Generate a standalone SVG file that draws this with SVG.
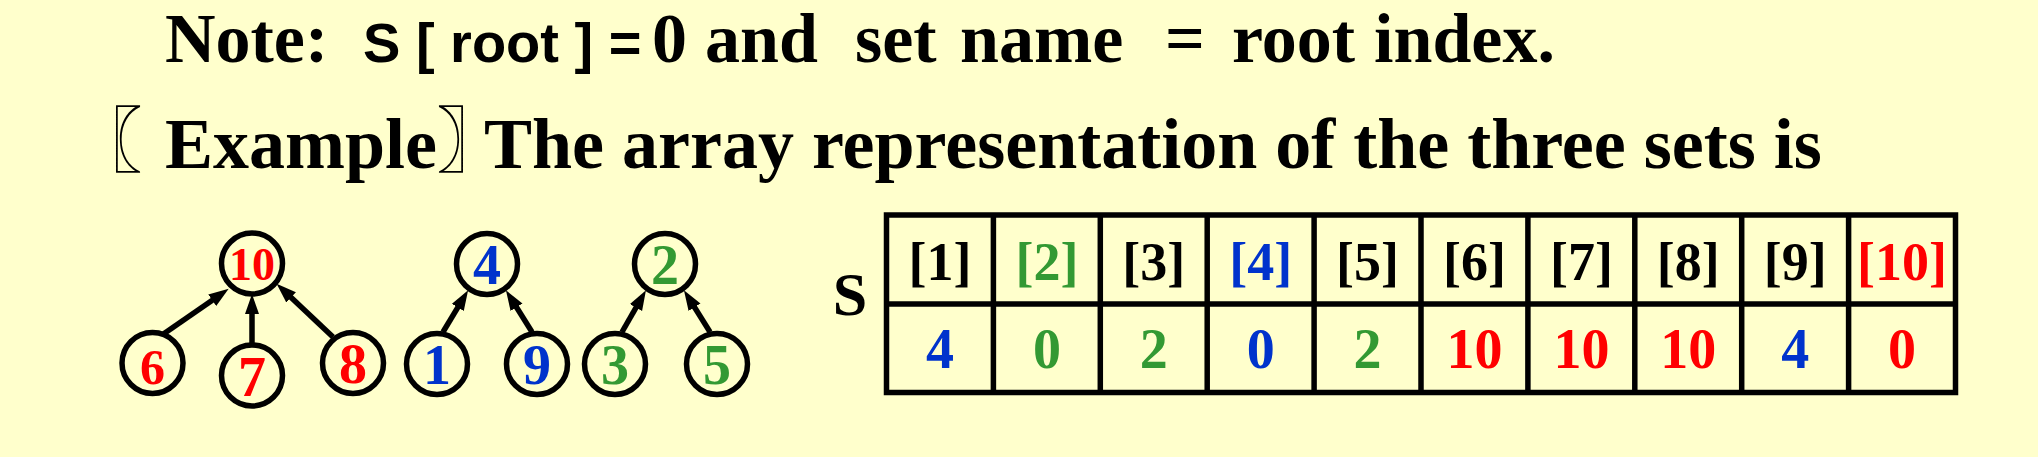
<svg xmlns="http://www.w3.org/2000/svg" width="2038" height="457" viewBox="0 0 2038 457">
<style>
.t{font-family:"Liberation Serif","Times New Roman",serif;font-weight:bold;fill:#000}
.sans{font-family:"Liberation Sans",Arial,sans-serif;font-weight:bold}
.cjk{font-family:"Noto Sans CJK SC","Noto Sans CJK JP",sans-serif;font-weight:bold}
.node circle{fill:none;stroke:#000;stroke-width:5.5}
.node text{font-family:"Liberation Serif","Times New Roman",serif;font-weight:bold;text-anchor:middle}
.red{fill:#FF0000}
.blue{fill:#0033CC}
.green{fill:#339933}
.blk{fill:#000}
.edge{stroke:#000;stroke-width:5.5;fill:none;marker-end:url(#arr)}
.grid{stroke:#000;stroke-width:5.5;fill:none}
.hd{font-family:"Liberation Serif","Times New Roman",serif;font-weight:bold;font-size:54px;text-anchor:middle}
.val{font-family:"Liberation Serif","Times New Roman",serif;font-weight:bold;font-size:56px;text-anchor:middle}
</style>
<defs>
<marker id="arr" markerUnits="userSpaceOnUse" markerWidth="22" markerHeight="16" refX="8" refY="7" orient="auto">
<path d="M0,0 L20,7 L0,14 z" fill="#000"/>
</marker>
</defs>
<rect x="0" y="0" width="2038" height="457" fill="#FFFFCC"/>

<g id="title">
<text class="t" y="62" font-size="70"><tspan x="165">Note:</tspan><tspan x="363" class="sans" font-size="56">S [ root ] =</tspan><tspan x="652">0</tspan><tspan x="705">and</tspan><tspan x="855">set</tspan><tspan x="960">name</tspan><tspan x="1165">=</tspan><tspan x="1232">root</tspan><tspan x="1374">index.</tspan></text>
<text class="t" y="168" font-size="72"><tspan class="cjk" x="72" y="166" font-size="70">〖</tspan><tspan x="165" y="168">Example</tspan><tspan class="cjk" x="437" y="166" font-size="70">〗</tspan><tspan x="484" y="168">The array representation of the three sets is</tspan></text>
</g>

<g id="connectors">
<path class="edge" d="M162,335 L218.8,295.7"/>
<path class="edge" d="M252,343 L252,306"/>
<path class="edge" d="M333,337 L285.3,291.9"/>
<path class="edge" d="M443,332 L461.9,300.6"/>
<path class="edge" d="M532,332 L512.3,300.5"/>
<path class="edge" d="M622,332 L640,300.7"/>
<path class="edge" d="M710,332 L690.3,300.5"/>
</g>

<g id="node-10" class="node"><circle cx="252" cy="263.5" r="30.5"/><text class="red" x="252" y="280" font-size="46">10</text></g>
<g id="node-6" class="node"><circle cx="152.5" cy="363" r="30.5"/><text class="red" x="152.5" y="384" font-size="50">6</text></g>
<g id="node-7" class="node"><circle cx="252" cy="375.5" r="30.5"/><text class="red" x="252" y="396" font-size="56">7</text></g>
<g id="node-8" class="node"><circle cx="353" cy="363" r="30.5"/><text class="red" x="353" y="383" font-size="56">8</text></g>
<g id="node-4" class="node"><circle cx="487" cy="264" r="30.5"/><text class="blue" x="487" y="284" font-size="56">4</text></g>
<g id="node-1" class="node"><circle cx="437" cy="364" r="30.5"/><text class="blue" x="437" y="384" font-size="56">1</text></g>
<g id="node-9" class="node"><circle cx="537" cy="364" r="30.5"/><text class="blue" x="537" y="384" font-size="56">9</text></g>
<g id="node-2" class="node"><circle cx="665" cy="264" r="30.5"/><text class="green" x="665" y="284" font-size="56">2</text></g>
<g id="node-3" class="node"><circle cx="615" cy="364" r="30.5"/><text class="green" x="615" y="384" font-size="56">3</text></g>
<g id="node-5" class="node"><circle cx="717" cy="364" r="30.5"/><text class="green" x="717" y="384" font-size="56">5</text></g>

<g id="array-S">
<text class="t" x="850" y="315" font-size="62" text-anchor="middle">S</text>
<rect class="grid" x="886.5" y="215" width="1069" height="177.5"/>
<line class="grid" x1="886.5" y1="304" x2="1955.5" y2="304"/>
<line class="grid" x1="993.4" y1="215" x2="993.4" y2="392.5"/>
<line class="grid" x1="1100.3" y1="215" x2="1100.3" y2="392.5"/>
<line class="grid" x1="1207.2" y1="215" x2="1207.2" y2="392.5"/>
<line class="grid" x1="1314.1" y1="215" x2="1314.1" y2="392.5"/>
<line class="grid" x1="1421" y1="215" x2="1421" y2="392.5"/>
<line class="grid" x1="1527.9" y1="215" x2="1527.9" y2="392.5"/>
<line class="grid" x1="1634.8" y1="215" x2="1634.8" y2="392.5"/>
<line class="grid" x1="1741.7" y1="215" x2="1741.7" y2="392.5"/>
<line class="grid" x1="1848.6" y1="215" x2="1848.6" y2="392.5"/>
<g class="hd">
<text class="blk" x="940" y="280">[1]</text>
<text class="green" x="1046.9" y="280">[2]</text>
<text class="blk" x="1153.8" y="280">[3]</text>
<text class="blue" x="1260.7" y="280">[4]</text>
<text class="blk" x="1367.6" y="280">[5]</text>
<text class="blk" x="1474.5" y="280">[6]</text>
<text class="blk" x="1581.4" y="280">[7]</text>
<text class="blk" x="1688.3" y="280">[8]</text>
<text class="blk" x="1795.2" y="280">[9]</text>
<text class="red" x="1902.1" y="280">[10]</text>
</g>
<g class="val">
<text class="blue" x="940" y="368">4</text>
<text class="green" x="1046.9" y="368">0</text>
<text class="green" x="1153.8" y="368">2</text>
<text class="blue" x="1260.7" y="368">0</text>
<text class="green" x="1367.6" y="368">2</text>
<text class="red" x="1474.5" y="368">10</text>
<text class="red" x="1581.4" y="368">10</text>
<text class="red" x="1688.3" y="368">10</text>
<text class="blue" x="1795.2" y="368">4</text>
<text class="red" x="1902.1" y="368">0</text>
</g>
</g>
</svg>
